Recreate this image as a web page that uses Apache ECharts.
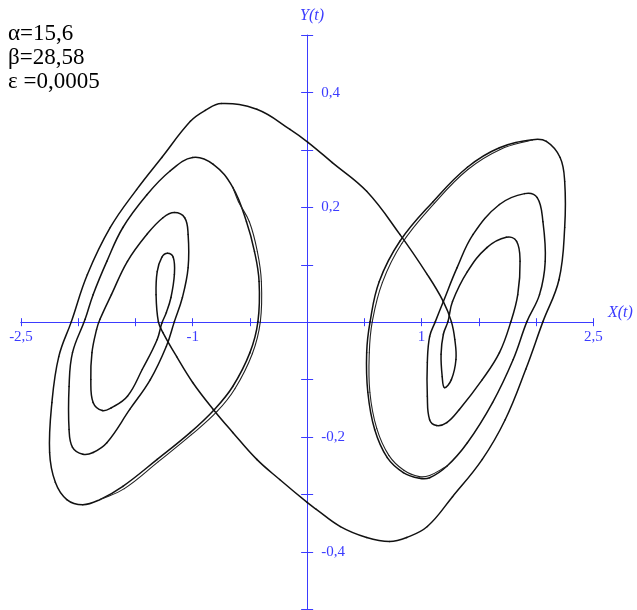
<!DOCTYPE html>
<html>
<head>
<meta charset="utf-8">
<script src="https://cdn.jsdelivr.net/npm/echarts@6/dist/echarts.min.js"></script>
<style>
  html, body { margin: 0; padding: 0; background: #fff; }
  #main { width: 637px; height: 610px; }
</style>
</head>
<body>
<div id="main"></div>
<script>
// 轨迹数据 (X(t), Y(t))
// 左侧涡卷：从内圈开始向外，最后越过 Y 轴
var leftPath = [
  [-1.30, 0.001], [-1.32, 0.048], [-1.31, 0.088], [-1.27, 0.113], [-1.22, 0.120],
  [-1.17, 0.113], [-1.16, 0.083], [-1.19, 0.043], [-1.23, 0.017], [-1.27, -0.002],
  [-1.31, -0.030], [-1.44, -0.082], [-1.57, -0.129], [-1.71, -0.149], [-1.79, -0.154],
  [-1.87, -0.140], [-1.89, -0.100], [-1.88, -0.053], [-1.84, -0.013], [-1.81, 0.005],
  [-1.71, 0.048], [-1.57, 0.106], [-1.40, 0.153], [-1.26, 0.182], [-1.16, 0.191],
  [-1.07, 0.182], [-1.04, 0.153], [-1.04, 0.095], [-1.09, 0.043], [-1.16, 0.001],
  [-1.23, -0.042], [-1.37, -0.100], [-1.55, -0.152], [-1.75, -0.210], [-1.87, -0.227],
  [-1.96, -0.230], [-2.05, -0.218], [-2.08, -0.187], [-2.08, -0.112], [-2.05, -0.053],
  [-1.94, 0.005], [-1.87, 0.048], [-1.75, 0.106], [-1.61, 0.165], [-1.40, 0.222],
  [-1.20, 0.263], [-1.00, 0.287], [-0.82, 0.275], [-0.65, 0.235], [-0.53, 0.175],
  [-0.46, 0.123], [-0.42, 0.071], [-0.43, 0.001], [-0.50, -0.053], [-0.65, -0.112],
  [-0.81, -0.152], [-1.02, -0.192], [-1.31, -0.239], [-1.61, -0.286], [-1.81, -0.309],
  [-1.96, -0.318], [-2.10, -0.309], [-2.20, -0.279], [-2.25, -0.227], [-2.23, -0.140],
  [-2.17, -0.060], [-2.06, 0.001], [-1.92, 0.083], [-1.72, 0.165], [-1.49, 0.231],
  [-1.27, 0.287], [-1.02, 0.350], [-0.89, 0.369], [-0.75, 0.381], [-0.44, 0.371],
  [-0.15, 0.336], [0.01, 0.313]
];
// 右侧涡卷：同样由内向外，最后回到左侧内圈
var rightPath = [
  [0.22, 0.278], [0.52, 0.228], [0.81, 0.153], [1.05, 0.083], [1.19, 0.036],
  [1.26, 0.001], [1.29, -0.030], [1.30, -0.065], [1.26, -0.100], [1.20, -0.114],
  [1.18, -0.095], [1.17, -0.056], [1.19, -0.021], [1.23, 0.001], [1.27, 0.036],
  [1.40, 0.088], [1.57, 0.130], [1.74, 0.148], [1.83, 0.141], [1.86, 0.106],
  [1.84, 0.048], [1.78, 0.001], [1.68, -0.053], [1.53, -0.100], [1.33, -0.152],
  [1.22, -0.175], [1.13, -0.180], [1.07, -0.170], [1.05, -0.129], [1.05, -0.070],
  [1.07, -0.025], [1.12, 0.001], [1.19, 0.036], [1.31, 0.095], [1.45, 0.153],
  [1.68, 0.205], [1.90, 0.224], [2.01, 0.217], [2.06, 0.175], [2.08, 0.106],
  [2.03, 0.048], [1.92, 0.001], [1.80, -0.065], [1.62, -0.140], [1.40, -0.210],
  [1.22, -0.251], [1.07, -0.271], [0.98, -0.272], [0.84, -0.262], [0.70, -0.236],
  [0.59, -0.187], [0.53, -0.122], [0.52, -0.053], [0.55, 0.001], [0.63, 0.071],
  [0.81, 0.141], [1.10, 0.210], [1.40, 0.270], [1.68, 0.304], [1.97, 0.318],
  [2.09, 0.315], [2.21, 0.287], [2.25, 0.245], [2.25, 0.165], [2.20, 0.074],
  [2.06, 0.001], [1.91, -0.082], [1.73, -0.170], [1.53, -0.239], [1.27, -0.304],
  [1.05, -0.356], [0.87, -0.375], [0.72, -0.382], [0.52, -0.375], [0.29, -0.356],
  [0.08, -0.326], [0.00, -0.314], [-0.24, -0.274], [-0.44, -0.239], [-0.65, -0.192],
  [-0.82, -0.152], [-1.00, -0.105], [-1.14, -0.060], [-1.26, -0.018], [-1.30, 0.001]
];
// 双线部分（轨迹第二次经过）
var leftStrand = [
  [-0.65, 0.235], [-0.60, 0.210], [-0.505, 0.175], [-0.435, 0.123], [-0.400, 0.071],
  [-0.409, 0.001], [-0.479, -0.055], [-0.631, -0.116], [-0.789, -0.156], [-1.011, -0.196],
  [-1.300, -0.243], [-1.597, -0.290], [-1.81, -0.309]
];
var rightStrand = [
  [1.22, -0.251], [1.070, -0.267], [0.980, -0.269], [0.845, -0.258], [0.714, -0.232],
  [0.608, -0.185], [0.548, -0.122], [0.543, -0.053], [0.569, 0.001], [0.657, 0.069],
  [0.827, 0.137], [1.111, 0.207], [1.404, 0.266], [1.687, 0.301], [1.97, 0.318]
];
// 刻度文字
var xLabelValues = [-2.5, -1, 1, 2.5];
var xLabelTexts = ['-2,5', '-1', '1', '2,5'];
var yLabelValues = [0.4, 0.2, -0.2, -0.4];
var yLabelTexts = ['0,4', '0,2', '-0,2', '-0,4'];
// 参数
var paramTexts = ['α=15,6', 'β=28,58', 'ε =0,0005'];

(function () {
  var blue = '#3b3bff'
  var serif = '"Liberation Serif", "DejaVu Serif", serif'
  // 网格：x 为 -2.5..2.5，y 为 -0.5..0.5
  var gridLeft = 21, gridRight = 43.7, gridTop = 35.2, gridBottom = 0.8
  var halfW = (637 - gridLeft - gridRight) / 2
  var halfH = (610 - gridTop - gridBottom) / 2
  function pick(values, texts, v) {
    var i = values.indexOf(Math.round(v * 10) / 10)
    return i < 0 ? '' : texts[i]
  }
  // 轴线放到网格正中（十字坐标）
  function xAxisOf(pos, showLabel) {
    return {
      type: 'value',
      position: pos,
      offset: -halfH,
      min: -2.5,
      max: 2.5,
      interval: 0.5,
      axisLine: { onZero: false, lineStyle: { color: blue, width: 1 } },
      axisTick: { show: true, length: 4, lineStyle: { color: blue, width: 1 } },
      axisLabel: {
        show: showLabel,
        color: blue,
        fontFamily: serif,
        fontSize: 15,
        margin: 7,
        showMinLabel: true,
        showMaxLabel: true,
        formatter: function (v) { return pick(xLabelValues, xLabelTexts, v) }
      },
      splitLine: { show: false }
    }
  }
  function yAxisOf(pos, showLabel) {
    return {
      type: 'value',
      position: pos,
      offset: -halfW,
      min: -0.5,
      max: 0.5,
      interval: 0.1,
      axisLine: { onZero: false, lineStyle: { color: blue, width: 1 } },
      axisTick: { show: true, length: 6, lineStyle: { color: blue, width: 1 } },
      axisLabel: {
        show: showLabel,
        inside: true,
        color: blue,
        fontFamily: serif,
        fontSize: 15,
        margin: 14,
        formatter: function (v) { return pick(yLabelValues, yLabelTexts, v) }
      },
      splitLine: { show: false }
    }
  }
  // 平滑曲线：每个数据点画到下一个点的一段贝塞尔曲线
  var tension = 0.4
  function ctrl(prev, p, next, dir) {
    var vx = next[0] - prev[0], vy = next[1] - prev[1]
    var d0 = Math.hypot(p[0] - prev[0], p[1] - prev[1])
    var d1 = Math.hypot(next[0] - p[0], next[1] - p[1])
    var sum = d0 + d1 || 1
    var k = dir > 0 ? tension * d1 / sum : -tension * d0 / sum
    return [p[0] + vx * k, p[1] + vy * k]
  }
  function curveSeries(name, path, width, color, closed) {
    var n = path.length
    return {
      type: 'custom',
      name: name,
      coordinateSystem: 'cartesian2d',
      xAxisIndex: 0,
      yAxisIndex: 0,
      silent: true,
      data: path,
      renderItem: function (params, api) {
        var i = params.dataIndex
        if (i >= n - 1) return null
        var at = function (k) {
          if (closed) {
            var m = n - 1
            k = ((k % m) + m) % m
          } else {
            k = Math.max(0, Math.min(n - 1, k))
          }
          return api.coord(path[k])
        }
        var p0 = at(i - 1), p1 = at(i), p2 = at(i + 1), p3 = at(i + 2)
        var c1 = ctrl(p0, p1, p2, 1)
        var c2 = ctrl(p1, p2, p3, -1)
        return {
          type: 'bezierCurve',
          shape: {
            x1: p1[0], y1: p1[1], x2: p2[0], y2: p2[1],
            cpx1: c1[0], cpy1: c1[1], cpx2: c2[0], cpy2: c2[1]
          },
          style: { stroke: color, lineWidth: width, fill: null, lineCap: 'round' }
        }
      }
    }
  }
  var option = {
    animation: false,
    grid: {
      left: gridLeft,
      right: gridRight,
      top: gridTop,
      bottom: gridBottom,
      containLabel: false,
      outerBoundsMode: 'none'
    },
    xAxis: [xAxisOf('bottom', true), xAxisOf('top', false)],
    yAxis: [yAxisOf('left', true), yAxisOf('right', false)],
    series: [
      curveSeries('trajectory', leftPath.concat(rightPath), 1.5, '#111', true),
      curveSeries('left strand', leftStrand, 1.1, '#222', false),
      curveSeries('right strand', rightStrand, 1.1, '#222', false)
    ],
    graphic: []
  }
  // 左上角参数
  var paramY = [34, 58, 81.5]
  paramTexts.forEach(function (t, i) {
    option.graphic.push({
      type: 'text',
      x: 8,
      y: paramY[i],
      style: { text: t, font: '23px ' + serif, fill: '#000', verticalAlign: 'middle' }
    })
  })
  // 坐标轴名称
  option.graphic.push({
    type: 'text', x: 608, y: 313,
    style: { text: 'X(t)', font: 'italic 16px ' + serif, fill: blue, verticalAlign: 'middle' }
  })
  option.graphic.push({
    type: 'text', x: 300, y: 16,
    style: { text: 'Y(t)', font: 'italic 16px ' + serif, fill: blue, verticalAlign: 'middle' }
  })
  var myChart = echarts.init(document.getElementById('main'))
  myChart.setOption(option)
})();
</script>
</body>
</html>
